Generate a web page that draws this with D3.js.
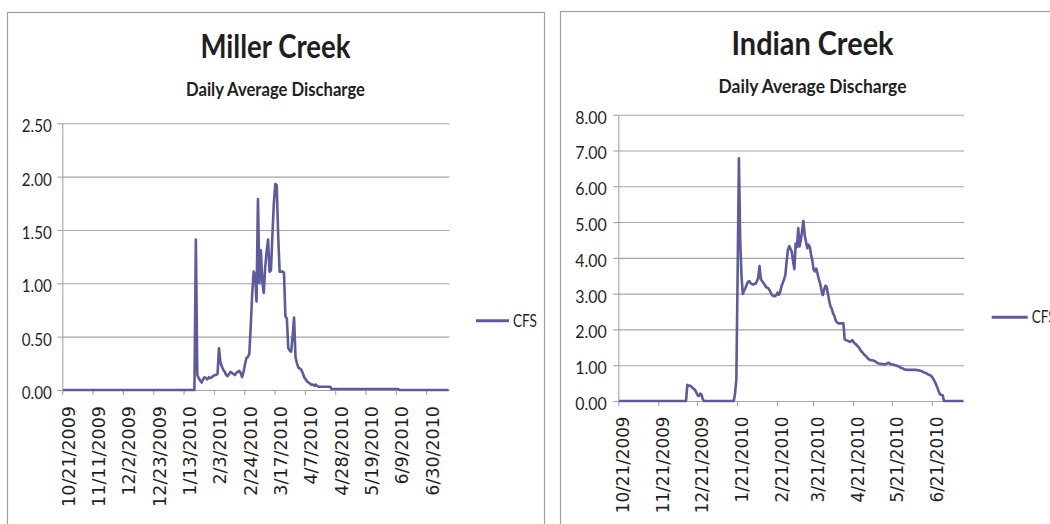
<!DOCTYPE html>
<html><head><meta charset="utf-8">
<script src="https://cdn.jsdelivr.net/npm/d3@7"></script>
<style>
html,body{margin:0;padding:0;background:#fff;overflow:hidden;}
svg{display:block;}
</style></head>
<body>
<svg id="chart" width="1050" height="524"></svg>
<script>
// ---------------- DATA ----------------
const startDate = "10/21/2009";
const endDate = "7/16/2010";

const millerDates = ["10/21/2009","1/19/2010","1/20/2010","1/21/2010","1/22/2010","1/23/2010","1/24/2010","1/25/2010","1/26/2010","1/27/2010","1/28/2010","1/29/2010","1/30/2010","1/31/2010",
"2/1/2010","2/2/2010","2/3/2010","2/4/2010","2/5/2010","2/6/2010","2/7/2010","2/8/2010","2/9/2010","2/10/2010","2/11/2010","2/12/2010","2/13/2010","2/14/2010","2/15/2010","2/16/2010","2/17/2010","2/18/2010","2/19/2010","2/20/2010","2/21/2010","2/22/2010","2/23/2010","2/24/2010","2/25/2010","2/26/2010","2/27/2010","2/28/2010",
"3/1/2010","3/2/2010","3/3/2010","3/4/2010","3/5/2010","3/6/2010","3/7/2010","3/8/2010","3/9/2010","3/10/2010","3/11/2010","3/12/2010","3/13/2010","3/14/2010","3/15/2010","3/16/2010","3/17/2010","3/18/2010","3/19/2010","3/20/2010","3/21/2010","3/22/2010","3/23/2010","3/24/2010","3/25/2010","3/26/2010","3/27/2010","3/28/2010","3/29/2010","3/30/2010","3/31/2010",
"4/1/2010","4/2/2010","4/3/2010","4/4/2010","4/5/2010","4/6/2010","4/7/2010","4/8/2010","4/9/2010","4/10/2010","4/11/2010","4/12/2010","4/13/2010","4/14/2010","4/15/2010","4/16/2010","4/24/2010","4/25/2010","6/10/2010","6/11/2010","7/15/2010"];
const millerCFS = [0,0,0,1.41,0.14,0.11,0.09,0.07,0.10,0.12,0.11,0.10,0.12,0.11,
0.12,0.13,0.14,0.14,0.15,0.39,0.26,0.22,0.19,0.17,0.14,0.13,0.15,0.17,0.16,0.15,0.14,0.16,0.17,0.18,0.16,0.12,0.17,0.24,0.30,0.31,0.34,0.60,
0.90,1.11,1.08,0.83,1.79,1.00,1.31,1.02,0.91,1.15,1.30,1.41,1.11,1.12,1.45,1.75,1.93,1.92,1.45,1.11,1.11,1.11,1.10,0.69,0.67,0.39,0.37,0.36,0.50,0.68,0.31,
0.25,0.21,0.20,0.19,0.16,0.12,0.10,0.08,0.07,0.06,0.05,0.05,0.04,0.05,0.04,0.03,0.03,0.01,0.01,0,0];

const indianDates = ["10/21/2009","12/12/2009","12/13/2009","12/14/2009","12/15/2009","12/16/2009","12/17/2009","12/18/2009","12/19/2009","12/20/2009","12/21/2009","12/22/2009","12/23/2009","12/24/2009","12/25/2009","12/26/2009",
"1/18/2010","1/19/2010","1/20/2010","1/21/2010","1/22/2010","1/23/2010","1/24/2010","1/25/2010","1/26/2010","1/27/2010","1/28/2010","1/29/2010","1/30/2010","1/31/2010",
"2/1/2010","2/2/2010","2/3/2010","2/4/2010","2/5/2010","2/6/2010","2/7/2010","2/8/2010","2/9/2010","2/10/2010","2/11/2010","2/12/2010","2/13/2010","2/14/2010","2/15/2010","2/16/2010","2/17/2010","2/18/2010","2/19/2010","2/20/2010","2/21/2010","2/22/2010","2/23/2010","2/24/2010","2/25/2010","2/26/2010","2/27/2010","2/28/2010",
"3/1/2010","3/2/2010","3/3/2010","3/4/2010","3/5/2010","3/6/2010","3/7/2010","3/8/2010","3/9/2010","3/10/2010","3/11/2010","3/12/2010","3/13/2010","3/14/2010","3/15/2010","3/16/2010","3/17/2010","3/18/2010","3/19/2010","3/20/2010","3/21/2010","3/22/2010","3/23/2010","3/24/2010","3/25/2010","3/26/2010","3/27/2010","3/28/2010","3/29/2010","3/30/2010","3/31/2010",
"4/1/2010","4/2/2010","4/3/2010","4/4/2010","4/5/2010","4/6/2010","4/7/2010","4/8/2010","4/9/2010","4/13/2010","4/14/2010","4/15/2010","4/16/2010","4/17/2010","4/18/2010","4/19/2010","4/20/2010","4/21/2010","4/22/2010","4/23/2010","4/24/2010","4/25/2010","4/26/2010","4/27/2010","4/28/2010","4/29/2010","4/30/2010",
"5/1/2010","5/2/2010","5/3/2010","5/4/2010","5/5/2010","5/6/2010","5/7/2010","5/8/2010","5/9/2010","5/10/2010","5/11/2010","5/12/2010","5/13/2010","5/14/2010","5/15/2010","5/16/2010","5/17/2010","5/18/2010","5/19/2010","5/20/2010","5/21/2010","5/22/2010","5/23/2010","5/24/2010","5/25/2010","5/26/2010","5/27/2010","5/28/2010","5/29/2010","5/30/2010","5/31/2010",
"6/1/2010","6/8/2010","6/9/2010","6/10/2010","6/11/2010","6/12/2010","6/13/2010","6/14/2010","6/15/2010","6/16/2010","6/17/2010","6/18/2010","6/19/2010","6/20/2010","6/21/2010","6/22/2010","6/23/2010","6/24/2010","6/25/2010","6/26/2010","6/27/2010","6/28/2010","6/29/2010","6/30/2010","7/15/2010"];
const indianCFS = [0,0,0.45,0.42,0.43,0.41,0.37,0.34,0.31,0.24,0.16,0.14,0.21,0.18,0.05,0,
0,0.21,0.59,3.50,6.78,4.50,3.50,2.99,3.08,3.15,3.25,3.33,3.35,3.30,
3.27,3.25,3.27,3.28,3.35,3.45,3.77,3.40,3.35,3.30,3.25,3.18,3.17,3.14,3.08,3.00,2.95,2.93,2.93,2.96,3.03,2.97,3.05,3.20,3.30,3.40,3.52,3.90,
4.22,4.33,4.25,4.17,3.90,3.68,4.40,4.30,4.83,4.32,4.50,4.75,5.03,4.64,4.45,4.27,4.37,4.30,4.08,3.90,3.66,3.62,3.70,3.55,3.40,3.28,3.10,2.96,3.10,3.22,3.19,
3.00,2.80,2.64,2.58,2.45,2.38,2.25,2.20,2.17,2.17,1.72,1.70,1.69,1.67,1.65,1.67,1.70,1.64,1.60,1.58,1.53,1.50,1.43,1.38,1.35,1.30,1.27,
1.23,1.19,1.16,1.14,1.14,1.13,1.12,1.10,1.07,1.05,1.04,1.04,1.03,1.03,1.02,1.04,1.05,1.07,1.04,1.03,1.02,1.01,1.00,0.99,0.98,0.96,0.94,0.92,0.91,0.89,0.88,
0.87,0.87,0.86,0.86,0.85,0.84,0.83,0.81,0.79,0.78,0.76,0.74,0.72,0.70,0.66,0.60,0.53,0.45,0.36,0.26,0.18,0.17,0.16,0,0];

const millerTicks = ["10/21/2009","11/11/2009","12/2/2009","12/23/2009","1/13/2010","2/3/2010","2/24/2010","3/17/2010","4/7/2010","4/28/2010","5/19/2010","6/9/2010","6/30/2010"];
const indianTicks = ["10/21/2009","11/21/2009","12/21/2009","1/21/2010","2/21/2010","3/21/2010","4/21/2010","5/21/2010","6/21/2010"];
const millerYTicks = [0,0.5,1,1.5,2,2.5];
const indianYTicks = [0,1,2,3,4,5,6,7,8];

// ---------------- DRAW ----------------
const parse = d3.utcParse("%m/%d/%Y");
const svg = d3.select("#chart");
const LINE = "#5b5b9d";
const GRID = "#a3a3a3";
const TXT = "#1f1f1f";

function panel(cfg){
  const g = svg.append("g");
  // border
  g.append("rect").attr("x",cfg.bx).attr("y",cfg.by).attr("width",cfg.bw).attr("height",600)
    .attr("fill","none").attr("stroke","#a0a0a0").attr("stroke-width",1.2);

  const x = d3.scaleUtc().domain([parse(startDate), parse(endDate)]).range([cfg.x0, cfg.x1]);
  const y = d3.scaleLinear().domain([0, cfg.ymax]).range([cfg.y0, cfg.y1]);

  // gridlines
  g.append("g").attr("transform",`translate(${cfg.x0},0)`)
    .call(d3.axisLeft(y).tickValues(cfg.yTicks).tickSize(-(cfg.x1-cfg.x0)).tickFormat(""))
    .call(a=>a.select(".domain").remove())
    .call(a=>a.selectAll("line").attr("stroke",GRID).attr("stroke-width",1.1));

  // y axis
  const ya = g.append("g").attr("transform",`translate(${cfg.x0},0)`)
    .call(d3.axisLeft(y).tickValues(cfg.yTicks).tickSize(5).tickSizeOuter(0).tickPadding(cfg.ypad).tickFormat(d3.format(".2f")));
  ya.select(".domain").attr("stroke",GRID).attr("stroke-width",1.1);
  ya.selectAll("line").attr("stroke",GRID).attr("stroke-width",1.1);
  ya.selectAll("text").attr("fill",TXT).attr("font-family","Lato, 'Open Sans', sans-serif")
    .attr("font-size",17).attr("textLength",cfg.ylw).attr("lengthAdjust","spacingAndGlyphs").attr("dy","0.5em");

  // x axis
  const tickDates = cfg.xTicks.map(parse);
  const xa = g.append("g").attr("transform",`translate(0,${cfg.y0})`)
    .call(d3.axisBottom(x).tickValues(tickDates).tickSize(5).tickSizeOuter(0).tickFormat((d,i)=>cfg.xTicks[i]));
  xa.select(".domain").attr("stroke",GRID).attr("stroke-width",1.1);
  xa.selectAll("line").attr("stroke",GRID).attr("stroke-width",1.1);
  xa.selectAll("text")
    .attr("fill",TXT).attr("font-family","'DejaVu Sans', Verdana, sans-serif").attr("font-size",cfg.xfs)
    .attr("text-anchor","end").attr("y",0).attr("dy","0.36em")
    .attr("transform",`translate(${cfg.xoff},${cfg.xlabTop}) rotate(-90)`);

  // data line
  const half = 12*3600*1000;
  const pts = cfg.dates.map((d,i)=>({t:new Date(parse(d).getTime()+half), v:cfg.vals[i]}));
  const line = d3.line().x(d=>x(d.t)).y(d=>y(d.v));
  g.append("path").datum(pts).attr("d",line).attr("fill","none")
    .attr("stroke",LINE).attr("stroke-width",2.6).attr("stroke-linejoin","round");

  // titles
  g.append("text").attr("x",cfg.tcx).attr("y",cfg.ty).attr("text-anchor","middle")
    .attr("font-family","Lato, 'Open Sans', sans-serif").attr("font-weight","bold").attr("font-size",33)
    .attr("fill",TXT).attr("textLength",cfg.tw).attr("lengthAdjust","spacingAndGlyphs").text(cfg.title);
  g.append("text").attr("x",cfg.tcx).attr("y",cfg.sy).attr("text-anchor","middle")
    .attr("font-family","Lato, 'Open Sans', sans-serif").attr("font-weight","bold").attr("font-size",18.5)
    .attr("fill",TXT).attr("textLength",cfg.sw).attr("lengthAdjust","spacingAndGlyphs").text("Daily Average Discharge");

  // legend
  g.append("line").attr("x1",cfg.lx).attr("x2",cfg.lx+cfg.ll).attr("y1",cfg.ly).attr("y2",cfg.ly)
    .attr("stroke",LINE).attr("stroke-width",3);
  g.append("text").attr("x",cfg.lx+cfg.ll+4).attr("y",cfg.ly).attr("dy","0.36em")
    .attr("font-family","Lato, 'Open Sans', sans-serif").attr("font-size",17).attr("fill",TXT)
    .attr("textLength",24).attr("lengthAdjust","spacingAndGlyphs").text("CFS");
}

panel({bx:7.5,by:12.5,bw:537,x0:62.3,x1:449.3,y0:390,y1:123.3,ymax:2.5,yTicks:millerYTicks,ypad:5.5,ylw:30,
  xTicks:millerTicks,xfs:17.5,xoff:5.5,xlabTop:16,dates:millerDates,vals:millerCFS,
  title:"Miller Creek",tcx:275.5,ty:58,tw:150,sy:96,sw:179,lx:476,ll:33,ly:320.7});
panel({bx:560.5,by:11.5,bw:600,x0:618.3,x1:964,y0:401,y1:114.7,ymax:8,yTicks:indianYTicks,ypad:6.5,ylw:31.5,
  xTicks:indianTicks,xfs:16.8,xoff:4.3,xlabTop:15.5,dates:indianDates,vals:indianCFS,
  title:"Indian Creek",tcx:812.5,ty:55,tw:162,sy:93,sw:188,lx:991.7,ll:36,ly:317.3});
</script>
</body></html>
